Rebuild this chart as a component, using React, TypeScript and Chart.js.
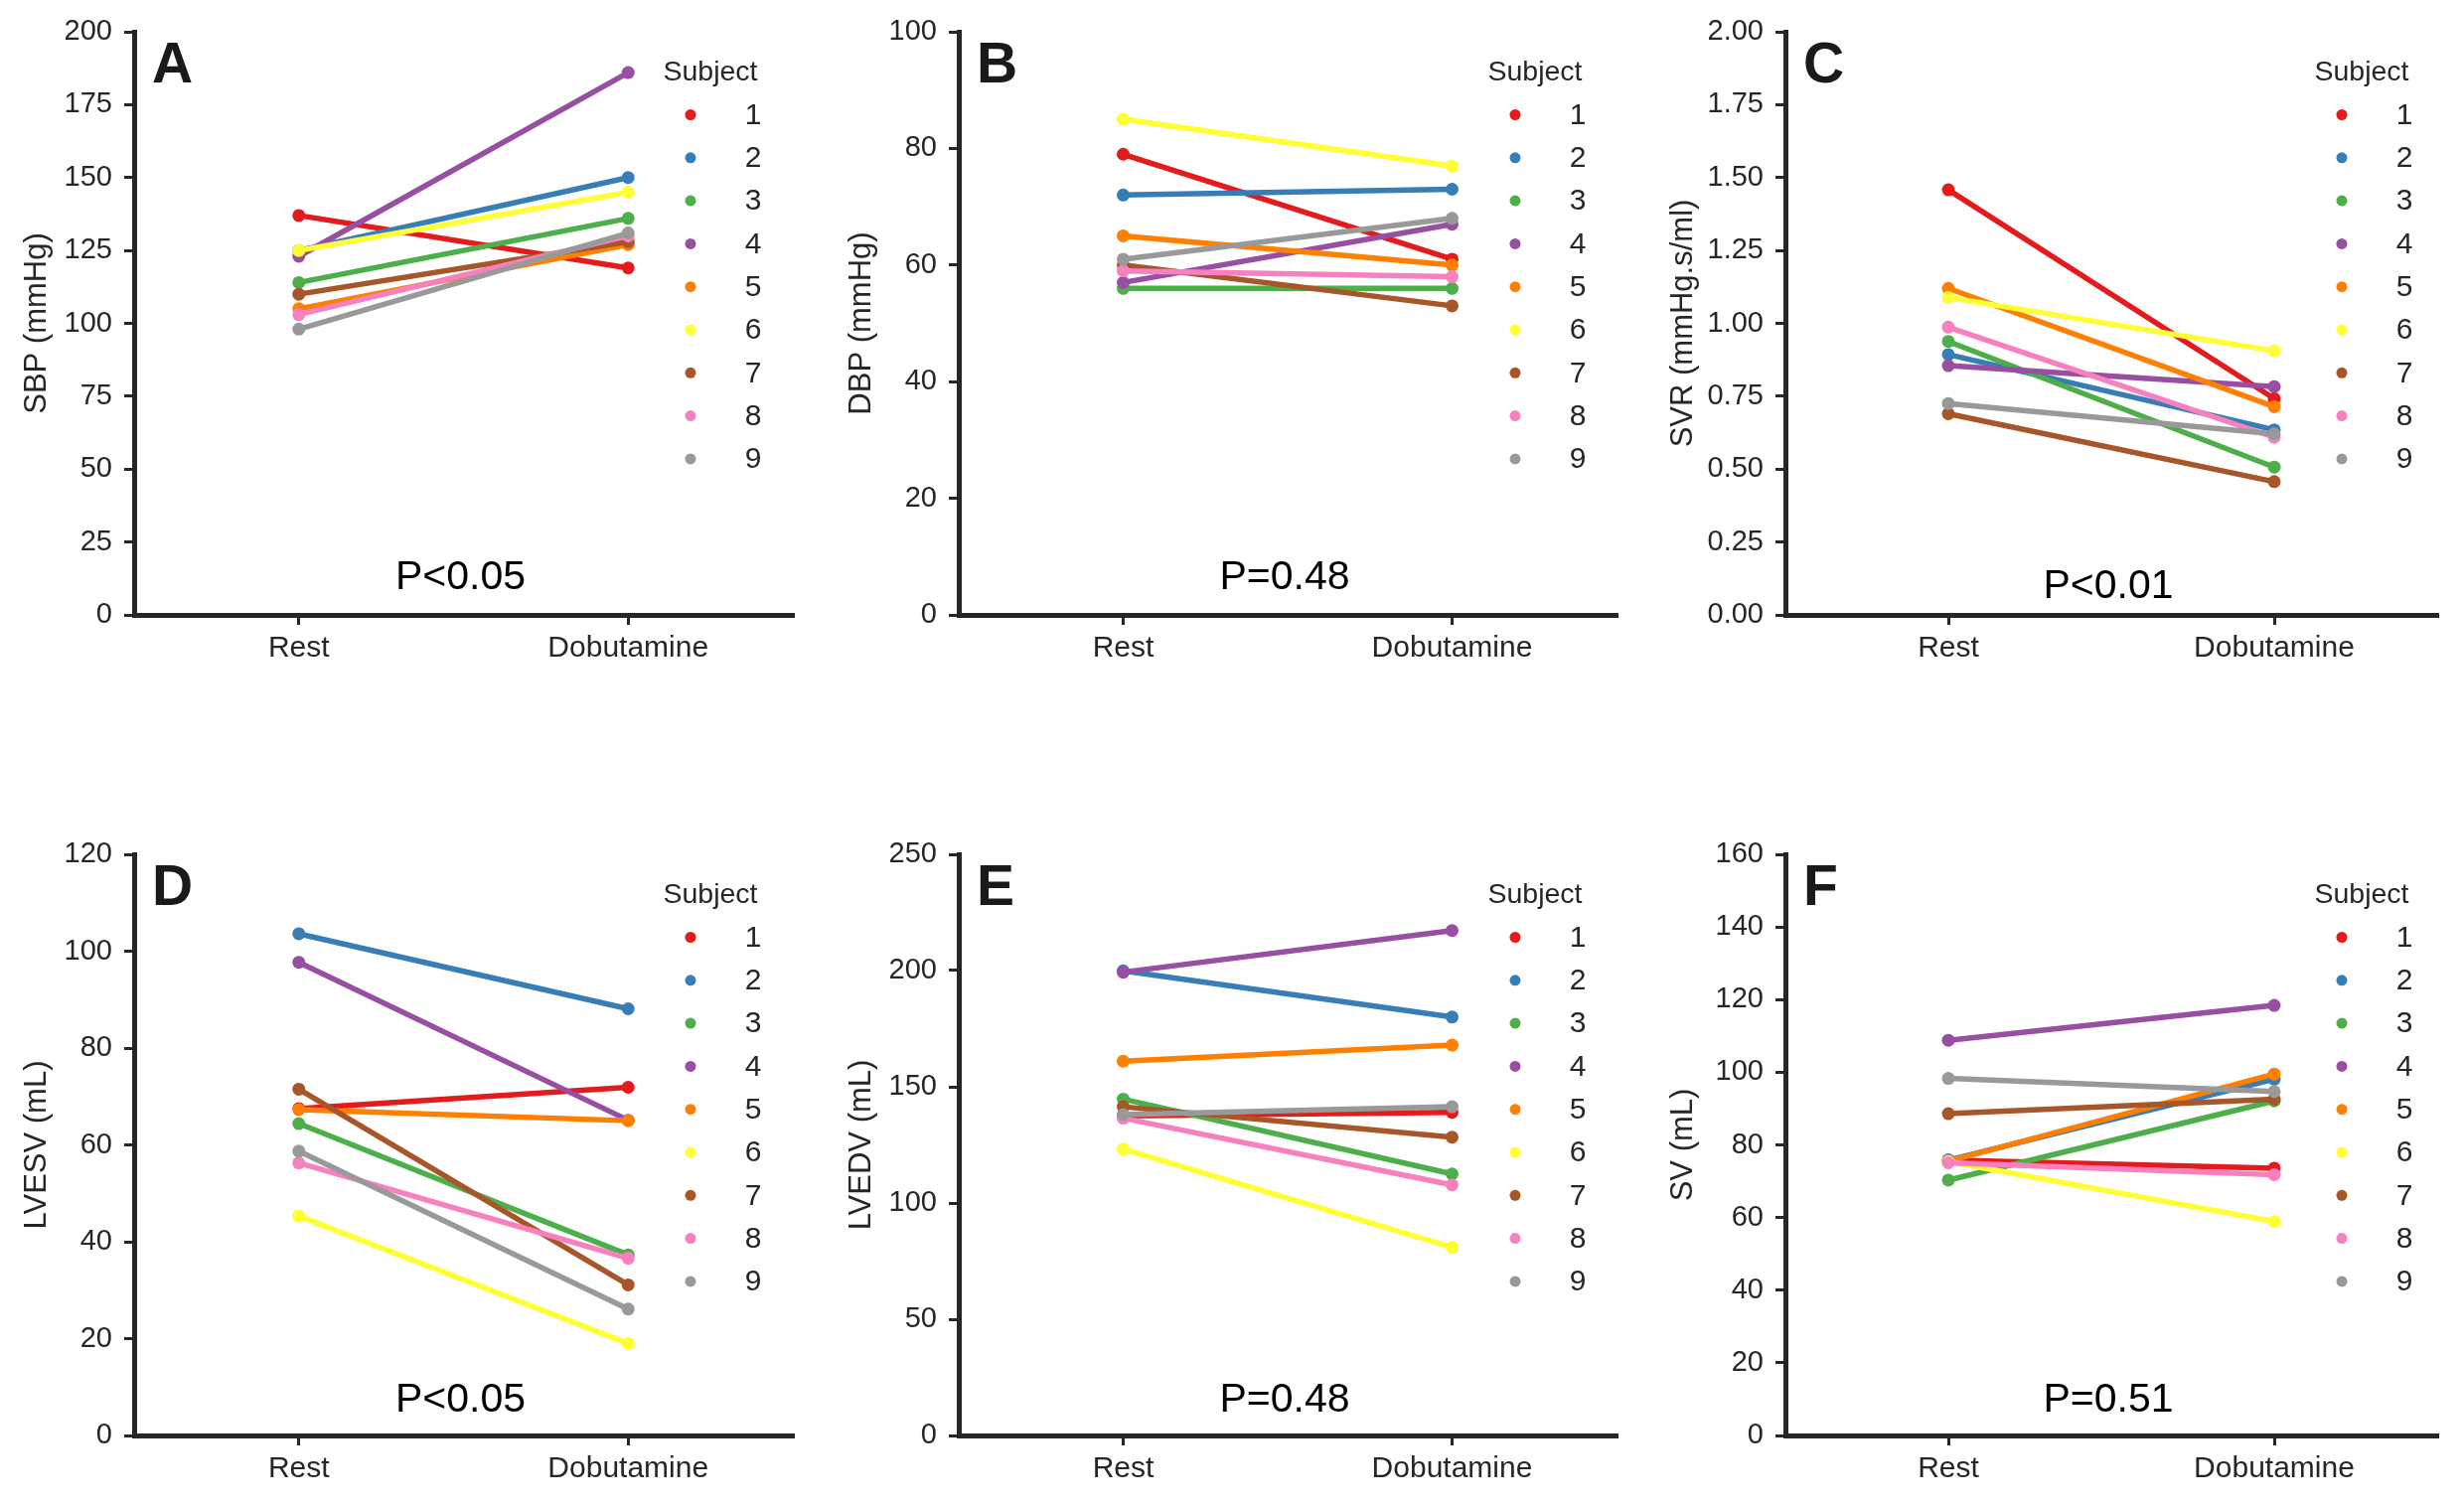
import React, { useEffect, useRef } from 'react';
import Chart from 'chart.js/auto';

// ---------- data ----------
const categories = ['Rest', 'Dobutamine'];
const subjects = ['1', '2', '3', '4', '5', '6', '7', '8', '9'];
const subjectColors = ['#e41a1c', '#377eb8', '#4daf4a', '#984ea3', '#ff7f00', '#ffff33', '#a65628', '#f781bf', '#999999'];

const sbpRest = [137, 125, 114, 123, 105, 125, 110, 103, 98];
const sbpDob = [119, 150, 136, 186, 127, 145, 128, 130, 131];

const dbpRest = [79, 72, 56, 57, 65, 85, 60, 59, 61];
const dbpDob = [61, 73, 56, 67, 60, 77, 53, 58, 68];

const svrRest = [1.458, 0.893, 0.938, 0.855, 1.12, 1.089, 0.69, 0.987, 0.725];
const svrDob = [0.742, 0.635, 0.507, 0.783, 0.714, 0.906, 0.457, 0.609, 0.621];

const lvesvRest = [67.5, 103.6, 64.4, 97.7, 67.3, 45.3, 71.5, 56.3, 58.7];
const lvesvDob = [71.9, 88.1, 37.3, 65.1, 65.0, 19.0, 31.1, 36.6, 26.1];

const lvedvRest = [137.5, 199.9, 144.7, 199.3, 161.0, 123.2, 141.4, 136.5, 138.0];
const lvedvDob = [139.0, 180.0, 112.5, 217.2, 167.9, 80.9, 128.3, 107.8, 141.4];

const svRest = [75.8, 75.8, 70.3, 108.8, 75.5, 75.4, 88.6, 75.1, 98.3];
const svDob = [73.6, 98.1, 92.1, 118.4, 99.5, 58.9, 92.6, 71.8, 94.7];

const panelLetters = ['A', 'B', 'C', 'D', 'E', 'F'];
const yTitles = ['SBP (mmHg)', 'DBP (mmHg)', 'SVR (mmHg.s/ml)', 'LVESV (mL)', 'LVEDV (mL)', 'SV (mL)'];
const yMax = [200, 100, 2, 120, 250, 160];
const yStep = [25, 20, 0.25, 20, 50, 20];
const yDecimals = [0, 0, 2, 0, 0, 0];
const pTexts = ['P<0.05', 'P=0.48', 'P<0.01', 'P<0.05', 'P=0.48', 'P=0.51'];
const restSeries = [sbpRest, dbpRest, svrRest, lvesvRest, lvedvRest, svRest];
const dobSeries = [sbpDob, dbpDob, svrDob, lvesvDob, lvedvDob, svDob];

// ---------- layout ----------
const FONT = '"Liberation Sans", Arial, Helvetica, sans-serif';
const AXIS = '#262626';
const colX = [0, 827, 1654];
const colW = [827, 827, 826];
const rowY = [0, 758];
const rowH = [758, 758];
const plotLeft = [135, 965, 1797];
const plotRight = [798, 1627, 2453];
const plotTop = [32, 860];
const plotBottom = [619, 1445];
const titleCenter = [37, 40, 40];
const pOffset = [37, 37, 28, 35, 35, 35];

function Panel({ idx }: { idx: number }) {
  const ref = useRef<HTMLCanvasElement>(null);
  const col = idx % 3;
  const row = Math.floor(idx / 3);
  const cx = colX[col];
  const cy = rowY[row];
  const cw = colW[col];
  const ch = rowH[row];

  useEffect(() => {
    const canvas = ref.current!;
    const yAxisWidth = plotLeft[col] - cx;
    const xAxisHeight = cy + ch - plotBottom[row];
    const titleFont = 31;
    const titlePad = titleCenter[col] - (titleFont * 1.2) / 2;

    const overlay = {
      id: 'overlay' + idx,
      afterDraw(chart: any) {
        const ctx = chart.ctx as CanvasRenderingContext2D;
        const a = chart.chartArea;
        ctx.save();
        // panel letter
        ctx.fillStyle = '#1a1a1a';
        ctx.font = `bold 57px ${FONT}`;
        ctx.textAlign = 'left';
        ctx.textBaseline = 'alphabetic';
        ctx.fillText(panelLetters[idx], a.left + 18, a.top + 51);
        // p-value
        ctx.fillStyle = '#000';
        ctx.font = `41px ${FONT}`;
        ctx.textAlign = 'center';
        ctx.textBaseline = 'middle';
        ctx.fillText(pTexts[idx], (a.left + a.right) / 2 - 3, a.bottom - pOffset[idx]);
        // legend
        ctx.fillStyle = AXIS;
        ctx.font = `28.5px ${FONT}`;
        ctx.fillText('Subject', a.left + 580, a.top + 41);
        chart.data.datasets.forEach((ds: any, i: number) => {
          const y = a.top + 83.5 + i * 43.3;
          ctx.beginPath();
          ctx.fillStyle = ds.borderColor;
          ctx.arc(a.left + 560, y, 5.5, 0, Math.PI * 2);
          ctx.fill();
          ctx.fillStyle = AXIS;
          ctx.font = `30px ${FONT}`;
          ctx.fillText(ds.label, a.left + 623, y + 1);
        });
        ctx.restore();
      },
    };

    const chart = new Chart(canvas, {
      type: 'line',
      data: {
        labels: categories,
        datasets: subjects.map((s, i) => ({
          label: s,
          data: [restSeries[idx][i], dobSeries[idx][i]],
          borderColor: subjectColors[i],
          backgroundColor: subjectColors[i],
          pointBackgroundColor: subjectColors[i],
          pointBorderColor: subjectColors[i],
          pointBorderWidth: 0,
          pointRadius: 6.5,
          borderWidth: 5.5,
          tension: 0,
          fill: false,
          order: subjects.length - i,
        })),
      },
      options: {
        animation: false,
        responsive: false,
        devicePixelRatio: 1,
        layout: {
          padding: { top: plotTop[row] - cy, right: cx + cw - plotRight[col], left: 0, bottom: 0 },
        },
        plugins: { legend: { display: false }, tooltip: { enabled: false } },
        scales: {
          x: {
            type: 'category',
            offset: true,
            grid: { drawOnChartArea: false, drawTicks: true, tickLength: 10, color: AXIS, lineWidth: 3 },
            border: { display: true, color: AXIS, width: 5 },
            ticks: { color: AXIS, font: { family: FONT, size: 30 }, padding: 6, maxRotation: 0, autoSkip: false },
            afterFit: (s: any) => {
              s.height = xAxisHeight;
            },
          },
          y: {
            min: 0,
            max: yMax[idx],
            grid: { drawOnChartArea: false, drawTicks: true, tickLength: 10, color: AXIS, lineWidth: 3 },
            border: { display: true, color: AXIS, width: 5 },
            ticks: {
              stepSize: yStep[idx],
              color: AXIS,
              font: { family: FONT, size: 29 },
              padding: 12,
              callback: (v: any) => Number(v).toFixed(yDecimals[idx]),
            },
            title: {
              display: true,
              text: yTitles[idx],
              color: AXIS,
              font: { family: FONT, size: titleFont },
              padding: { top: titlePad, bottom: 0 },
            },
            afterFit: (s: any) => {
              s.width = yAxisWidth;
            },
          },
        },
      },
      plugins: [overlay],
    } as any);
    return () => chart.destroy();
  }, []);

  return (
    <canvas
      ref={ref}
      width={cw}
      height={ch}
      style={{ position: 'absolute', left: cx, top: cy, width: cw, height: ch }}
    />
  );
}

export default function App() {
  return (
    <div style={{ position: 'absolute', left: 0, top: 0, width: 2480, height: 1516, background: '#ffffff', overflow: 'hidden' }}>
      {[0, 1, 2, 3, 4, 5].map((i) => (
        <Panel key={i} idx={i} />
      ))}
    </div>
  );
}
